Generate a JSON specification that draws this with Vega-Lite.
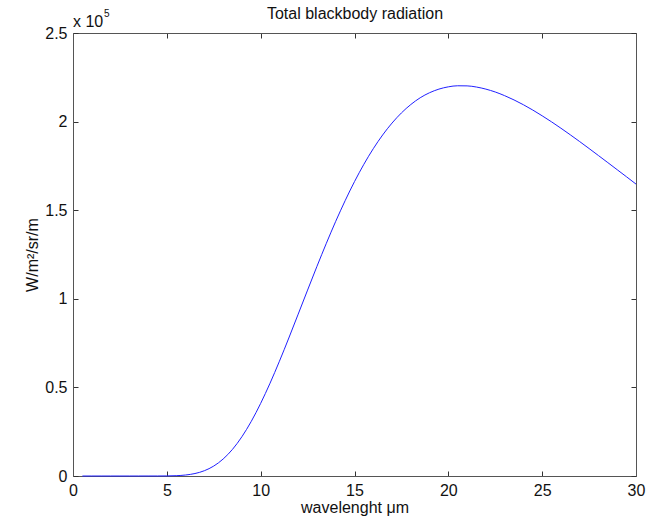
{
  "$schema": "https://vega.github.io/schema/vega-lite/v6.json",
  "width": 563,
  "height": 443,
  "autosize": {"type": "none"},
  "padding": {"left": 73, "top": 33, "right": 16, "bottom": 45},
  "background": "white",
  "config": {
    "view": {"stroke": null},
    "axis": {"grid": false, "domainColor": "#555555", "tickColor": "#333333", "domainWidth": 1, "tickWidth": 1, "labelFont": "Liberation Sans", "labelFontSize": 16, "labelColor": "#111111", "labelFlush": false, "labelOverlap": false, "titleFont": "Liberation Sans", "titleFontSize": 16, "titleFontWeight": "normal", "titleColor": "#111111"}
  },
  "data": {"values": [
    {"wl": 0.5, "B": 0}, {"wl": 1, "B": 0}, {"wl": 1.5, "B": 0}, {"wl": 2, "B": 0}, {"wl": 2.5, "B": 0},
    {"wl": 3, "B": 0}, {"wl": 3.5, "B": 0}, {"wl": 4, "B": 1}, {"wl": 4.5, "B": 8}, {"wl": 5, "B": 45},
    {"wl": 5.5, "B": 182}, {"wl": 6, "B": 558}, {"wl": 6.5, "B": 1396}, {"wl": 7, "B": 2982}, {"wl": 7.5, "B": 5616},
    {"wl": 8, "B": 9583}, {"wl": 8.5, "B": 15057}, {"wl": 9, "B": 22157}, {"wl": 9.5, "B": 30839}, {"wl": 10, "B": 40990},
    {"wl": 10.5, "B": 52373}, {"wl": 11, "B": 64768}, {"wl": 11.5, "B": 77874}, {"wl": 12, "B": 91357}, {"wl": 12.5, "B": 104920},
    {"wl": 13, "B": 118330}, {"wl": 13.5, "B": 131330}, {"wl": 14, "B": 143730}, {"wl": 14.5, "B": 155350}, {"wl": 15, "B": 166130},
    {"wl": 15.5, "B": 175920}, {"wl": 16, "B": 184710}, {"wl": 16.5, "B": 192450}, {"wl": 17, "B": 199180}, {"wl": 17.5, "B": 204890},
    {"wl": 18, "B": 209630}, {"wl": 18.5, "B": 213450}, {"wl": 19, "B": 216300}, {"wl": 19.5, "B": 218340}, {"wl": 20, "B": 219620},
    {"wl": 20.5, "B": 220220}, {"wl": 21, "B": 220160}, {"wl": 21.5, "B": 219500}, {"wl": 22, "B": 218330}, {"wl": 22.5, "B": 216710},
    {"wl": 23, "B": 214640}, {"wl": 23.5, "B": 212230}, {"wl": 24, "B": 209510}, {"wl": 24.5, "B": 206520}, {"wl": 25, "B": 203270},
    {"wl": 25.5, "B": 199860}, {"wl": 26, "B": 196260}, {"wl": 26.5, "B": 192540}, {"wl": 27, "B": 188720}, {"wl": 27.5, "B": 184810},
    {"wl": 28, "B": 180840}, {"wl": 28.5, "B": 176840}, {"wl": 29, "B": 172830}, {"wl": 29.5, "B": 168810}, {"wl": 30, "B": 164740}
  ]},
  "layer": [
    {
      "mark": {"type": "line", "color": "#2020ff", "strokeWidth": 1, "interpolate": "monotone"},
      "encoding": {
        "x": {"field": "wl", "type": "quantitative", "scale": {"domain": [0, 30], "nice": false},
          "axis": {"orient": "bottom", "values": [0, 5, 10, 15, 20, 25, 30], "tickSize": -5, "labelPadding": 11, "title": "wavelenght μm", "titlePadding": 1}},
        "y": {"field": "B", "type": "quantitative", "scale": {"domain": [0, 250000], "nice": false},
          "axis": {"orient": "left", "values": [0, 50000, 100000, 150000, 200000, 250000], "labelExpr": "format(datum.value / 100000, '')", "tickSize": -5, "labelPadding": 11, "title": "W/m²/sr/m", "titlePadding": 4}}
      }
    },
    {
      "mark": {"type": "line", "opacity": 0},
      "encoding": {
        "x": {"field": "wl", "type": "quantitative", "axis": {"orient": "top", "values": [0, 5, 10, 15, 20, 25, 30], "tickSize": -5, "labels": false, "title": "Total blackbody radiation", "titlePadding": 11}},
        "y": {"field": "B", "type": "quantitative", "axis": {"orient": "right", "values": [0, 50000, 100000, 150000, 200000, 250000], "tickSize": -5, "labels": false, "title": null}}
      }
    },
    {
      "data": {"values": [{"t": "x 10"}]},
      "mark": {"type": "text", "align": "left", "baseline": "alphabetic", "font": "Liberation Sans", "fontSize": 16, "color": "#111111", "dy": -6},
      "encoding": {
        "x": {"datum": 0, "type": "quantitative", "axis": null},
        "y": {"datum": 250000, "type": "quantitative", "axis": null},
        "text": {"field": "t"}
      }
    },
    {
      "data": {"values": [{"t": "5"}]},
      "mark": {"type": "text", "align": "left", "baseline": "alphabetic", "font": "Liberation Sans", "fontSize": 10, "color": "#111111", "dx": 31, "dy": -16},
      "encoding": {
        "x": {"datum": 0, "type": "quantitative", "axis": null},
        "y": {"datum": 250000, "type": "quantitative", "axis": null},
        "text": {"field": "t"}
      }
    }
  ],
  "resolve": {"axis": {"x": "independent", "y": "independent"}}
}
